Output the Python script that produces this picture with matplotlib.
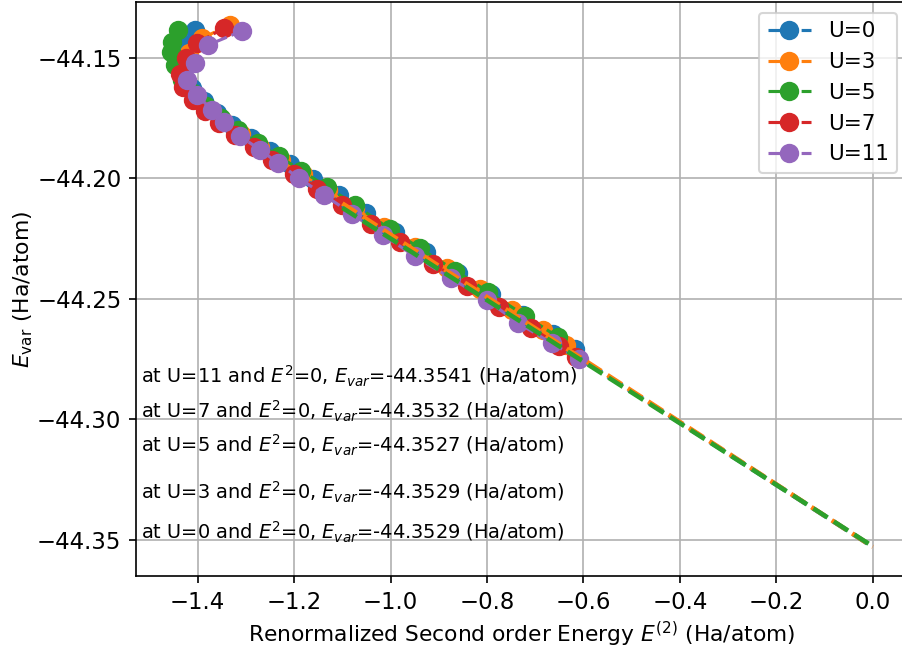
import matplotlib
matplotlib.use("Agg")
import matplotlib.pyplot as plt

# U values and E_var extrapolated to E2 = 0
u_labels = ["U=0", "U=3", "U=5", "U=7", "U=11"]
e_var0 = ["-44.3529", "-44.3529", "-44.3527", "-44.3532", "-44.3541"]

# renormalized second order energy (x) and variational energy (y), per U
x_u0 = [-1.405, -1.433, -1.440, -1.430, -1.412, -1.388, -1.360, -1.328, -1.290, -1.250, -1.208,
        -1.160, -1.108, -1.050, -0.990, -0.926, -0.860, -0.792, -0.726, -0.664, -0.618]
y_u0 = [-44.1384, -44.1440, -44.1510, -44.1570, -44.1625, -44.1678, -44.1728, -44.1778, -44.1832,
        -44.1885, -44.1940, -44.2002, -44.2070, -44.2145, -44.2223, -44.2306, -44.2392, -44.2480,
        -44.2566, -44.2647, -44.2707]

x_u3 = [-1.333, -1.391, -1.418, -1.432, -1.425, -1.405, -1.378, -1.347, -1.310, -1.270, -1.228,
        -1.182, -1.130, -1.074, -1.014, -0.950, -0.884, -0.815, -0.748, -0.684, -0.636]
y_u3 = [-44.1363, -44.1418, -44.1480, -44.1545, -44.1605, -44.1660, -44.1712, -44.1762, -44.1815,
        -44.1868, -44.1922, -44.1982, -44.2050, -44.2123, -44.2201, -44.2284, -44.2370, -44.2460,
        -44.2547, -44.2630, -44.2693]

x_u5 = [-1.440, -1.453, -1.455, -1.447, -1.432, -1.410, -1.383, -1.352, -1.316, -1.276, -1.232,
        -1.185, -1.132, -1.074, -1.001, -0.939, -0.866, -0.798, -0.721, -0.653]
y_u5 = [-44.1384, -44.1432, -44.1474, -44.1530, -44.1590, -44.1645, -44.1698, -44.1748, -44.1800,
        -44.1853, -44.1908, -44.1968, -44.2035, -44.2110, -44.2211, -44.2290, -44.2383, -44.2470,
        -44.2570, -44.2658]

x_u7 = [-1.346, -1.402, -1.425, -1.437, -1.430, -1.410, -1.385, -1.355, -1.322, -1.283, -1.245,
        -1.200, -1.152, -1.100, -1.040, -0.980, -0.912, -0.842, -0.775, -0.708, -0.650, -0.615]
y_u7 = [-44.1377, -44.1439, -44.1500, -44.1565, -44.1620, -44.1675, -44.1722, -44.1770, -44.1820,
        -44.1870, -44.1922, -44.1980, -44.2042, -44.2110, -44.2188, -44.2266, -44.2354, -44.2445,
        -44.2533, -44.2620, -44.2695, -44.2741]

x_u11 = [-1.308, -1.378, -1.405, -1.422, -1.401, -1.371, -1.345, -1.313, -1.270, -1.233, -1.190,
         -1.139, -1.080, -1.016, -0.949, -0.875, -0.801, -0.735, -0.666, -0.609]
y_u11 = [-44.1388, -44.1446, -44.1521, -44.1591, -44.1654, -44.1716, -44.1768, -44.1824, -44.1882,
         -44.1937, -44.1999, -44.2068, -44.2147, -44.2234, -44.2324, -44.2414, -44.2504, -44.2601,
         -44.2684, -44.2750]

# linear extrapolation to E2 = 0 (drawn for U=0,3,5)
fit_x = [-1.1, 0.0]
fit_u0 = [-44.2112, -44.3529]
fit_u3 = [-44.2104, -44.3529]
fit_u5 = [-44.2122, -44.3527]

# text rows, y position in data units
text_y = [-44.2820, -44.2969, -44.3106, -44.3305, -44.3471]

xs = [x_u0, x_u3, x_u5, x_u7, x_u11]
ys = [y_u0, y_u3, y_u5, y_u7, y_u11]
colors = ["tab:blue", "tab:orange", "tab:green", "tab:red", "tab:purple"]

fig = plt.figure(figsize=(903 / 150, 654 / 150), dpi=150)
ax = fig.add_axes([136 / 903, 1 - 576 / 654, 772 / 903, 574 / 654])

for x, y, c, lab in zip(xs, ys, colors, u_labels):
    ax.plot(x, y, "o--", color=c, markersize=8.3, label=lab)

for fy, c in zip([fit_u0, fit_u3, fit_u5], colors[:3]):
    ax.plot(fit_x, fy, "--", color=c, linewidth=2.2)

for i in [4, 3, 2, 1, 0]:
    ax.text(-1.517, text_y[4 - i],
            "at " + u_labels[i] + " and $E^2$=0, $E_{var}$=" + e_var0[i] + " (Ha/atom)",
            fontsize=9.3, va="center", ha="left")

ax.set_xlim(-1.528, 0.073)
ax.set_ylim(-44.365, -44.1268)
ax.grid(True)
ax.tick_params(labelsize=10.9)
ax.set_xlabel("Renormalized Second order Energy $E^{(2)}$ (Ha/atom)", fontsize=10.45, labelpad=3)
ax.set_ylabel(r"$E_{\mathrm{var}}$ (Ha/atom)", fontsize=10.5, labelpad=1)
ax.legend(loc="upper right", fontsize=10.3)

fig.savefig("out.png", dpi=150)
